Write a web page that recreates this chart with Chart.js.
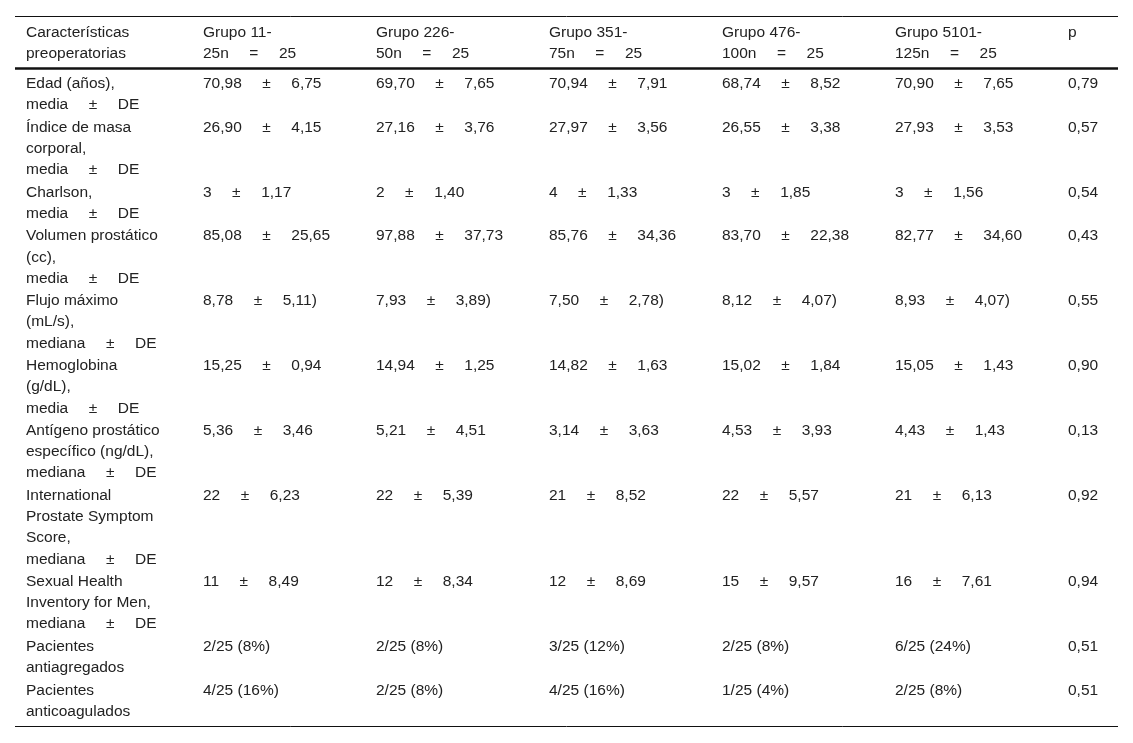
<!DOCTYPE html>
<html lang="es">
<head>
<meta charset="UTF-8">
<title>Características preoperatorias por grupo</title>
<script src="https://cdn.jsdelivr.net/npm/chart.js@4"></script>
<style>
    html, body { margin: 0; padding: 0; background: #fff; }
    #wrap { position: relative; width: 1133px; height: 743px; }
</style>
</head>
<body>

<div id="wrap"><canvas id="tabla"></canvas></div>

<script>
    const headers = [
        'Características\npreoperatorias',
        'Grupo 11-\n25n = 25',
        'Grupo 226-\n50n = 25',
        'Grupo 351-\n75n = 25',
        'Grupo 476-\n100n = 25',
        'Grupo 5101-\n125n = 25',
        'p'
    ];

    const rowLabels = [
        'Edad (años),\nmedia ± DE',
        'Índice de masa\ncorporal,\nmedia ± DE',
        'Charlson,\nmedia ± DE',
        'Volumen prostático\n(cc),\nmedia ± DE',
        'Flujo máximo\n(mL/s),\nmediana ± DE',
        'Hemoglobina\n(g/dL),\nmedia ± DE',
        'Antígeno prostático\nespecífico (ng/dL),\nmediana ± DE',
        'International\nProstate Symptom\nScore,\nmediana ± DE',
        'Sexual Health\nInventory for Men,\nmediana ± DE',
        'Pacientes\nantiagregados',
        'Pacientes\nanticoagulados'
    ];

    const grupo1 = ['70,98 ± 6,75', '26,90 ± 4,15', '3 ± 1,17', '85,08 ± 25,65', '8,78 ± 5,11)', '15,25 ± 0,94',
                    '5,36 ± 3,46', '22 ± 6,23', '11 ± 8,49', '2/25 (8%)', '4/25 (16%)'];
    const grupo2 = ['69,70 ± 7,65', '27,16 ± 3,76', '2 ± 1,40', '97,88 ± 37,73', '7,93 ± 3,89)', '14,94 ± 1,25',
                    '5,21 ± 4,51', '22 ± 5,39', '12 ± 8,34', '2/25 (8%)', '2/25 (8%)'];
    const grupo3 = ['70,94 ± 7,91', '27,97 ± 3,56', '4 ± 1,33', '85,76 ± 34,36', '7,50 ± 2,78)', '14,82 ± 1,63',
                    '3,14 ± 3,63', '21 ± 8,52', '12 ± 8,69', '3/25 (12%)', '4/25 (16%)'];
    const grupo4 = ['68,74 ± 8,52', '26,55 ± 3,38', '3 ± 1,85', '83,70 ± 22,38', '8,12 ± 4,07)', '15,02 ± 1,84',
                    '4,53 ± 3,93', '22 ± 5,57', '15 ± 9,57', '2/25 (8%)', '1/25 (4%)'];
    const grupo5 = ['70,90 ± 7,65', '27,93 ± 3,53', '3 ± 1,56', '82,77 ± 34,60', '8,93 ± 4,07)', '15,05 ± 1,43',
                    '4,43 ± 1,43', '21 ± 6,13', '16 ± 7,61', '6/25 (24%)', '2/25 (8%)'];
    const pValues = ['0,79', '0,57', '0,54', '0,43', '0,55', '0,90', '0,13', '0,92', '0,94', '0,51', '0,51'];

    const columns = [rowLabels, grupo1, grupo2, grupo3, grupo4, grupo5, pValues];

    const FONT = "15.5px 'Liberation Sans', Arial, sans-serif";
    const LINE = 21.2;      // baseline step inside a cell
    const ROW_GAP = 22.5;   // baseline step between rows
    const SEP_GAP = 20.5;   // space around ± and =

    // left edge of each column (first one is wider)
    const colLeft = i => i === 0 ? 26 : 203 + 173 * (i - 1);

    // baseline of the first line of each row
    const rowBase = [];
    let yb = 88;
    rowLabels.forEach(lab => {
        rowBase.push(yb);
        yb += (lab.split('\n').length - 1) * LINE + ROW_GAP;
    });

    const datasets = columns.map((col, c) => ({
        label: headers[c].replace('\n', ' '),
        data: [{ x: colLeft(c), y: 36.5, text: headers[c] }]
            .concat(col.map((t, r) => ({ x: colLeft(c), y: rowBase[r], text: t }))),
        pointRadius: 0,
        showLine: false
    }));

    function drawLine(ctx, txt, x, y) {
        // "a ± b" is drawn in pieces so the wide gaps match
        const parts = txt.split(/ (±|=) /);
        let cx = x;
        parts.forEach((p, k) => {
            ctx.fillText(p, cx, y);
            cx += ctx.measureText(p).width + (k < parts.length - 1 ? SEP_GAP : 0);
        });
    }

    const tablePlugin = {
        id: 'tablePlugin',
        afterDatasetsDraw(chart) {
            const ctx = chart.ctx;
            const xs = chart.scales.x, ys = chart.scales.y;
            ctx.save();

            // horizontal rules: top, under header, bottom
            ctx.strokeStyle = '#111';
            [[16.5, 1], [68.5, 2.5], [726.5, 1]].forEach(([y, w]) => {
                ctx.lineWidth = w;
                ctx.beginPath();
                ctx.moveTo(xs.getPixelForValue(15), ys.getPixelForValue(y));
                ctx.lineTo(xs.getPixelForValue(1118), ys.getPixelForValue(y));
                ctx.stroke();
            });

            ctx.font = FONT;
            ctx.fillStyle = '#222';
            ctx.textBaseline = 'alphabetic';
            ctx.textAlign = 'left';
            chart.data.datasets.forEach((ds, i) => {
                chart.getDatasetMeta(i).data.forEach((pt, j) => {
                    const d = ds.data[j];
                    d.text.split('\n').forEach((ln, k) => {
                        drawLine(ctx, ln, pt.x, ys.getPixelForValue(d.y + k * LINE));
                    });
                });
            });
            ctx.restore();
        }
    };

    new Chart(document.getElementById('tabla'), {
        type: 'scatter',
        data: { datasets },
        options: {
            responsive: true,
            maintainAspectRatio: false,
            animation: false,
            events: [],
            layout: { padding: 0 },
            plugins: { legend: { display: false }, tooltip: { enabled: false } },
            scales: {
                x: { type: 'linear', min: 0, max: 1133, display: false },
                y: { type: 'linear', min: 0, max: 743, reverse: true, display: false }
            }
        },
        plugins: [tablePlugin]
    });
</script>

</body>
</html>
